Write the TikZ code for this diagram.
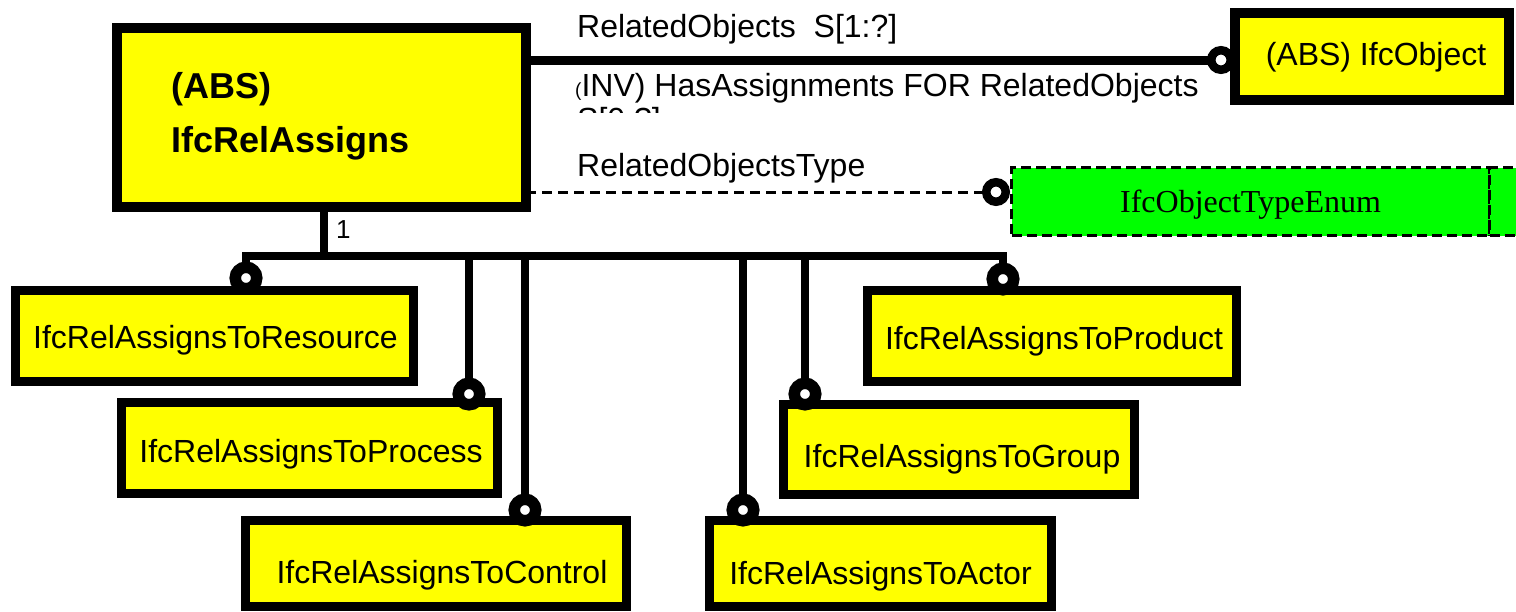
\documentclass[tikz,border=0pt]{standalone}
\usepackage{fontspec}
\setmainfont{Liberation Sans}
\newfontfamily\enumfont{Liberation Serif}
\definecolor{ifcyellow}{RGB}{255,255,0}
\definecolor{ifcgreen}{RGB}{0,255,0}
\begin{document}
\begin{tikzpicture}[x=1pt,y=-1pt,
  box/.style={draw=black, line width=9pt, fill=ifcyellow, inner sep=0pt, outer sep=0pt,
    font=\fontsize{32}{32}\selectfont, text depth=8pt, anchor=center},
  enumbox/.style={draw=black, line width=3pt, dash pattern=on 10pt off 5pt, fill=ifcgreen,
    inner sep=0pt, outer sep=0pt, font=\enumfont\fontsize{32}{32}\selectfont, text depth=8pt, text height=29pt},
  conn/.style={line width=8pt, line join=miter},
  dashconn/.style={line width=3pt, dash pattern=on 10pt off 6pt},
  ring/.style={circle, draw=black, fill=white, inner sep=0pt, outer sep=0pt, line width=11.5pt, minimum size=21.5pt},
  sring/.style={circle, draw=black, fill=white, inner sep=0pt, outer sep=0pt, line width=8.5pt, minimum size=19.5pt},
  lbl/.style={anchor=base west, inner sep=0pt, font=\fontsize{32}{32}\selectfont},
  titletext/.style={anchor=base west, inner sep=0pt, font=\fontsize{36}{36}\selectfont\bfseries}]
\useasboundingbox (0,0) rectangle (1516,611);
\begin{scope}
\clip (0,0) rectangle (1516,611);
% main entity
\node[box, line width=10pt, minimum width=409pt, minimum height=179pt] (rel) at (321.5,117.5) {};
\node[titletext] (relabs) at (171,98) {(ABS)};
\node[titletext] (relname) at (171,152) {IfcRelAssigns};
% related object
\node[box, line width=10pt, minimum width=274pt, minimum height=87pt, text height=26pt] (obj) at (1372,56.5) {\hspace*{8pt}(ABS) IfcObject};
% enumeration
\node[enumbox, minimum width=478pt, minimum height=68pt] (enum) at (1250.5,201.5) {IfcObjectTypeEnum};
\node[enumbox, minimum width=60pt, minimum height=68pt, anchor=west] (enumx) at (enum.east) {};
% subtypes
\node[box, minimum width=398pt, minimum height=91pt, text height=32pt] (res) at (214.5,336) {\hspace*{2pt}IfcRelAssignsToResource};
\node[box, minimum width=376pt, minimum height=91pt, text height=37pt] (proc) at (309.5,448) {\hspace*{3pt}IfcRelAssignsToProcess};
\node[box, minimum width=381pt, minimum height=86pt, text height=47pt] (ctrl) at (436,563.5) {\hspace*{12pt}IfcRelAssignsToControl};
\node[box, minimum width=369pt, minimum height=91pt, text height=34pt] (prod) at (1052,336) {\hspace*{4pt}IfcRelAssignsToProduct};
\node[box, minimum width=351pt, minimum height=90pt, text height=44pt] (grp) at (959,449.5) {\hspace*{6pt}IfcRelAssignsToGroup};
\node[box, minimum width=342pt, minimum height=86pt, text height=49pt] (act) at (880.5,563.5) {IfcRelAssignsToActor};
% circles
\node[sring] (cobj) at (1221,60) {};
\node[sring] (cenum) at (996,192) {};
\node[ring] (cres) at (246,278) {};
\node[ring] (cproc) at (469,394) {};
\node[ring] (cctrl) at (525,510) {};
\node[ring] (cact) at (743,510) {};
\node[ring] (cgrp) at (805,394) {};
\node[ring] (cprod) at (1003,279) {};
% connectors
\coordinate (bus) at (600,256);
\coordinate (stub) at (324,256);
\draw[conn, line width=9pt] (rel.east |- cobj) -- (cobj.west);
\draw[dashconn] (rel.east |- cenum) -- (cenum.west);
\draw[conn] (stub |- rel.south) -- (stub);
\draw[conn] (cres.north) |- (bus) -| (cprod.north);
\draw[conn] (cproc.north |- bus) -- (cproc.north);
\draw[conn] (cctrl.north |- bus) -- (cctrl.north);
\draw[conn] (cact.north |- bus) -- (cact.north);
\draw[conn] (cgrp.north |- bus) -- (cgrp.north);
% labels
\node[lbl] (lro) at (577,37.3) {RelatedObjects\ \ S[1:?]};
\node[lbl] (linv) at (575,96.7) {{\fontsize{19}{19}\selectfont(}INV) HasAssignments FOR RelatedObjects};
\begin{scope}
\clip (560,100) rectangle (1200,112);
\node[lbl] (linvcard) at (577,130) {S[0:?]};
\end{scope}
\node[lbl] (lrot) at (577,176.7) {RelatedObjectsType};
\node[anchor=base west, inner sep=0pt, font=\fontsize{26}{26}\selectfont] (one) at (336,238) {1};
\end{scope}
\end{tikzpicture}
\end{document}
